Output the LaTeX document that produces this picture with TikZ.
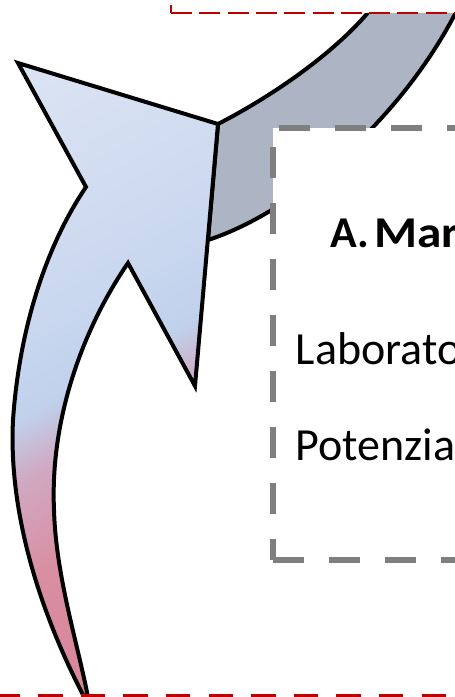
\documentclass[tikz,border=0pt]{standalone}
\usepackage{graphicx}
\usepackage{fontspec}
\setmainfont{Carlito}
\definecolor{bandc}{HTML}{ADB4C3}
\definecolor{blA}{HTML}{DCE4F3}
\definecolor{blB}{HTML}{C9D7EF}
\definecolor{blC}{HTML}{C0D1EC}
\definecolor{mixA}{HTML}{D0A9C2}
\definecolor{pkB}{HTML}{D98EA2}
\definecolor{pkC}{HTML}{D98598}
\definecolor{grayd}{HTML}{7F7F7F}
\definecolor{redd}{HTML}{C00000}
\pgfdeclareverticalshading{arrowsh}{100bp}{color(0bp)=(pkC); color(29bp)=(pkC); color(38bp)=(pkB); color(44.5bp)=(mixA); color(48.3bp)=(blC); color(53.5bp)=(blB); color(70bp)=(blA); color(100bp)=(blA)}
\tikzset{
  outl/.style={draw=black, line width=4pt, line join=miter},
  graydash/.style={draw=grayd, line width=6.5pt, line cap=butt, dash pattern=on 31pt off 25pt},
  redtop/.style={draw=redd, line width=2.7pt, line cap=butt, dash pattern=on 21pt off 7.3pt},
  redbot/.style={draw=redd, line width=6pt, line cap=butt, dash pattern=on 24.5pt off 18.1pt},
  txt/.style={inner sep=0pt, anchor=base west, font=\fontsize{46}{50}\selectfont},
  btxt/.style={inner sep=0pt, anchor=base west, font=\fontsize{44}{48}\selectfont\bfseries}
}
\begin{document}
\begin{tikzpicture}[x=1pt,y=-1pt]
\useasboundingbox (0,0) rectangle (455,697);
% gray band of the curved arrow
\filldraw[fill=bandc, outl] (218,124) .. controls (280,92) and (345,45) .. (378,0) -- (385,-20) -- (470,-20) -- (462,0) .. controls (410,110) and (300,210) .. (208,240) -- cycle;
% arrow head and shaft, shaded
\begin{scope}
\clip (18,63) -- (218,124) -- (195,386) -- (128,263) .. controls (82,330) and (50,420) .. (54,510) .. controls (56,580) and (80,650) .. (90,708) .. controls (45,625) and (8,520) .. (13,420) .. controls (20,320) and (50,240) .. (86,187) -- cycle;
\begin{scope}[transform canvas={rotate=30}]
\shade[shading=arrowsh, overlay] (-400,0) rectangle (500,700);
\end{scope}
\end{scope}
\draw[outl] (18,63) -- (218,124) -- (195,386) -- (128,263) .. controls (82,330) and (50,420) .. (54,510) .. controls (56,580) and (80,650) .. (90,708) .. controls (45,625) and (8,520) .. (13,420) .. controls (20,320) and (50,240) .. (86,187) -- cycle;
% gray dashed text box
\fill[white] (273,128) rectangle (480,560);
\draw[graydash] (273,560) -- (470,560);
\draw[graydash, dash phase=10pt] (273,560) -- (273,128) -- (470,128);
\node[btxt] (na) at (330,247) {A.};
\node[btxt] (nm) at (374,247) {\scalebox{1.12}[1]{Mar}};
\node[txt] (l1) at (295.5,364) {Laborato};
\node[txt] (l2) at (295.5,460) {Potenzia};
% red dashed boxes (top and bottom)
\fill[white] (171,-40) rectangle (480,13);
\draw[redtop] (171,13) -- (470,13);
\draw[redtop, dash phase=13pt] (171,13) -- (171,-20);
\fill[white] (-20,697) rectangle (480,740);
\draw[redbot, dash phase=4.5pt] (0,697) -- (470,697);
\end{tikzpicture}
\end{document}
